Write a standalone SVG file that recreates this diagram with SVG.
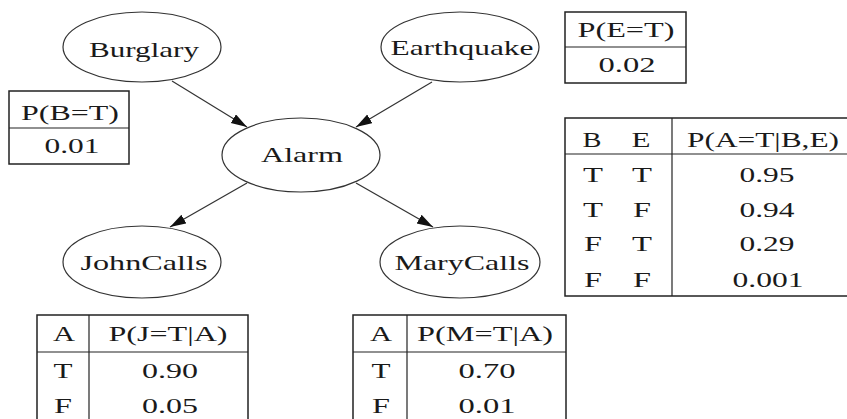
<svg xmlns="http://www.w3.org/2000/svg" width="847" height="419" viewBox="0 0 847 419">
<style>
.n{fill:#fff;stroke:#333;stroke-width:1.2}
.b{fill:#fff;stroke:#222;stroke-width:1.5}
.l{stroke:#222;stroke-width:1.2;fill:none}
.e{stroke:#333;stroke-width:1.2;fill:none;marker-end:url(#ah)}
text{font-family:"Liberation Serif","Times New Roman",serif;font-size:22px;fill:#1a1a1a;text-anchor:middle}
</style>
<defs>
<marker id="ah" markerUnits="userSpaceOnUse" markerWidth="18" markerHeight="12" refX="16" refY="5" orient="auto">
<path d="M0,0 L16,5 L0,10 Z" fill="#111"/>
</marker>
</defs>
<rect width="847" height="419" fill="#fff"/>
<g id="edges">
<line class="e" x1="172" y1="81" x2="247" y2="127"/>
<line class="e" x1="432" y1="82" x2="356" y2="127"/>
<line class="e" x1="247" y1="183" x2="170" y2="227"/>
<line class="e" x1="356" y1="183" x2="433" y2="227"/>
</g>
<g id="burglary">
<ellipse class="n" cx="142" cy="47" rx="79" ry="35"/>
<text x="144" y="57" textLength="110" lengthAdjust="spacingAndGlyphs">Burglary</text>
</g>
<g id="earthquake">
<ellipse class="n" cx="460" cy="47" rx="79" ry="35"/>
<text x="462" y="55" textLength="143" lengthAdjust="spacingAndGlyphs">Earthquake</text>
</g>
<g id="alarm">
<ellipse class="n" cx="301" cy="155" rx="79" ry="37"/>
<text x="302" y="162" textLength="82" lengthAdjust="spacingAndGlyphs">Alarm</text>
</g>
<g id="johncalls">
<ellipse class="n" cx="142" cy="262" rx="79" ry="36"/>
<text x="144" y="270" textLength="127" lengthAdjust="spacingAndGlyphs">JohnCalls</text>
</g>
<g id="marycalls">
<ellipse class="n" cx="460" cy="262" rx="80" ry="36"/>
<text x="462" y="270" textLength="135" lengthAdjust="spacingAndGlyphs">MaryCalls</text>
</g>
<g id="cpt-b">
<rect class="b" x="9" y="91" width="120" height="73"/>
<line class="l" x1="9" y1="128" x2="129" y2="128"/>
<text x="70" y="120" textLength="98" lengthAdjust="spacingAndGlyphs">P(B=T)</text>
<text x="72" y="153" textLength="55" lengthAdjust="spacingAndGlyphs">0.01</text>
</g>
<g id="cpt-e">
<rect class="b" x="565" y="12" width="121" height="71"/>
<line class="l" x1="565" y1="47" x2="686" y2="47"/>
<text x="626" y="37" textLength="97" lengthAdjust="spacingAndGlyphs">P(E=T)</text>
<text x="627" y="72" textLength="57" lengthAdjust="spacingAndGlyphs">0.02</text>
</g>
<g id="cpt-a">
<rect class="b" x="565" y="118" width="300" height="178"/>
<line class="l" x1="565" y1="154" x2="847" y2="154"/>
<line class="l" x1="672" y1="118" x2="672" y2="296"/>
<text x="592" y="147" textLength="19" lengthAdjust="spacingAndGlyphs">B</text>
<text x="641" y="147" textLength="19" lengthAdjust="spacingAndGlyphs">E</text>
<text x="763" y="147" textLength="152" lengthAdjust="spacingAndGlyphs">P(A=T|B,E)</text>
<text x="593" y="182" textLength="20" lengthAdjust="spacingAndGlyphs">T</text>
<text x="642" y="182" textLength="20" lengthAdjust="spacingAndGlyphs">T</text>
<text x="767" y="182" textLength="55" lengthAdjust="spacingAndGlyphs">0.95</text>
<text x="593" y="217" textLength="20" lengthAdjust="spacingAndGlyphs">T</text>
<text x="642" y="217" textLength="18" lengthAdjust="spacingAndGlyphs">F</text>
<text x="767" y="217" textLength="55" lengthAdjust="spacingAndGlyphs">0.94</text>
<text x="593" y="251" textLength="18" lengthAdjust="spacingAndGlyphs">F</text>
<text x="642" y="251" textLength="20" lengthAdjust="spacingAndGlyphs">T</text>
<text x="767" y="251" textLength="55" lengthAdjust="spacingAndGlyphs">0.29</text>
<text x="593" y="287" textLength="18" lengthAdjust="spacingAndGlyphs">F</text>
<text x="642" y="287" textLength="18" lengthAdjust="spacingAndGlyphs">F</text>
<text x="768" y="287" textLength="71" lengthAdjust="spacingAndGlyphs">0.001</text>
</g>
<g id="cpt-j">
<rect class="b" x="37" y="315" width="211" height="120"/>
<line class="l" x1="37" y1="352" x2="248" y2="352"/>
<line class="l" x1="89" y1="315" x2="89" y2="435"/>
<text x="64" y="341" textLength="22" lengthAdjust="spacingAndGlyphs">A</text>
<text x="168" y="341" textLength="119" lengthAdjust="spacingAndGlyphs">P(J=T|A)</text>
<text x="63" y="378" textLength="19" lengthAdjust="spacingAndGlyphs">T</text>
<text x="170" y="378" textLength="56" lengthAdjust="spacingAndGlyphs">0.90</text>
<text x="63" y="413" textLength="18" lengthAdjust="spacingAndGlyphs">F</text>
<text x="170" y="413" textLength="56" lengthAdjust="spacingAndGlyphs">0.05</text>
</g>
<g id="cpt-m">
<rect class="b" x="353" y="315" width="213" height="120"/>
<line class="l" x1="353" y1="352" x2="566" y2="352"/>
<line class="l" x1="407" y1="315" x2="407" y2="435"/>
<text x="381" y="341" textLength="22" lengthAdjust="spacingAndGlyphs">A</text>
<text x="485" y="341" textLength="136" lengthAdjust="spacingAndGlyphs">P(M=T|A)</text>
<text x="381" y="378" textLength="19" lengthAdjust="spacingAndGlyphs">T</text>
<text x="487" y="378" textLength="57" lengthAdjust="spacingAndGlyphs">0.70</text>
<text x="381" y="413" textLength="18" lengthAdjust="spacingAndGlyphs">F</text>
<text x="487" y="413" textLength="57" lengthAdjust="spacingAndGlyphs">0.01</text>
</g>
</svg>
